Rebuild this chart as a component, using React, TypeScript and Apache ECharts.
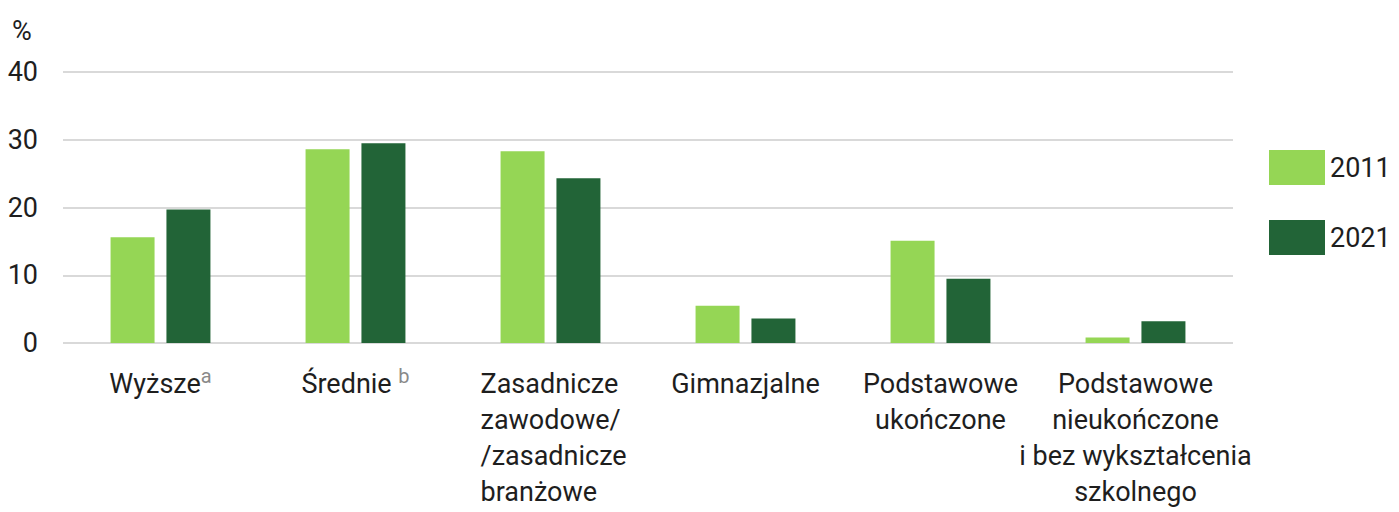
import React, { useEffect, useRef } from "react";
import * as echarts from "echarts";

const categories = [
  "Wyższe",
  "Średnie",
  "Zasadnicze zawodowe/ /zasadnicze branżowe",
  "Gimnazjalne",
  "Podstawowe ukończone",
  "Podstawowe nieukończone i bez wykształcenia szkolnego",
];
const series2011 = [15.6, 28.6, 28.3, 5.5, 15.1, 0.8];
const series2021 = [19.7, 29.5, 24.3, 3.6, 9.5, 3.2];
const yTicks = [0, 10, 20, 30, 40];

const FONT = "Roboto, 'Liberation Sans', sans-serif";
const LIGHT = "#95d655";
const DARK = "#226437";
const TEXT = "#1e1e1e";

function formatCategory(v: string, idx: number): string {
  switch (idx) {
    case 0:
      return "Wyższe{sup|a}";
    case 1:
      return "Średnie {sup|b}";
    case 2:
      return ["{l|Zasadnicze}", "{l|zawodowe/}", "{l|/zasadnicze}", "{l|branżowe}"].join("\n");
    case 4:
      return "Podstawowe\nukończone";
    case 5:
      return "Podstawowe\nnieukończone\ni bez wykształcenia\nszkolnego";
    default:
      return v;
  }
}

export default function App() {
  const ref = useRef<HTMLDivElement>(null);
  useEffect(() => {
    if (!ref.current) return;
    const chart = echarts.init(ref.current, undefined, { renderer: "svg" });
    chart.setOption({
      animation: false,
      textStyle: { fontFamily: FONT },
      grid: { left: 63, right: 166, top: 72, bottom: 169, containLabel: false },
      graphic: [
        {
          type: "text",
          left: 12,
          top: 17,
          style: { text: "%", font: `27px ${FONT}`, fill: TEXT },
        },
      ],
      legend: {
        orient: "vertical",
        left: 1264,
        top: 145,
        itemWidth: 56,
        itemHeight: 35,
        itemGap: 35,
        icon: "rect",
        textStyle: { fontSize: 27, color: TEXT, fontFamily: FONT },
        data: ["2011", "2021"],
      },
      xAxis: {
        type: "category",
        data: categories,
        axisLine: { show: false },
        axisTick: { show: false },
        axisLabel: {
          interval: 0,
          margin: 23,
          fontSize: 27,
          lineHeight: 36,
          color: TEXT,
          fontFamily: FONT,
          formatter: formatCategory,
          rich: {
            sup: { fontSize: 20, color: "#8a8a8a", verticalAlign: "top", lineHeight: 22, fontFamily: FONT },
            l: { fontSize: 27, lineHeight: 36, width: 140, align: "left", color: TEXT, fontFamily: FONT },
          },
        },
      },
      yAxis: {
        type: "value",
        min: yTicks[0],
        max: yTicks[yTicks.length - 1],
        interval: 10,
        axisLine: { show: false },
        axisTick: { show: false },
        axisLabel: { fontSize: 27, color: TEXT, margin: 25, fontFamily: FONT },
        splitLine: { lineStyle: { color: "#d9d9d9", width: 2 } },
      },
      series: [
        {
          name: "2011",
          type: "bar",
          data: series2011,
          barWidth: 44,
          barGap: "27%",
          itemStyle: { color: LIGHT },
        },
        {
          name: "2021",
          type: "bar",
          data: series2021,
          barWidth: 44,
          itemStyle: { color: DARK },
        },
      ],
    });
    return () => chart.dispose();
  }, []);
  return <div ref={ref} style={{ width: 1399, height: 512, position: "absolute", left: 0, top: 0 }} />;
}
